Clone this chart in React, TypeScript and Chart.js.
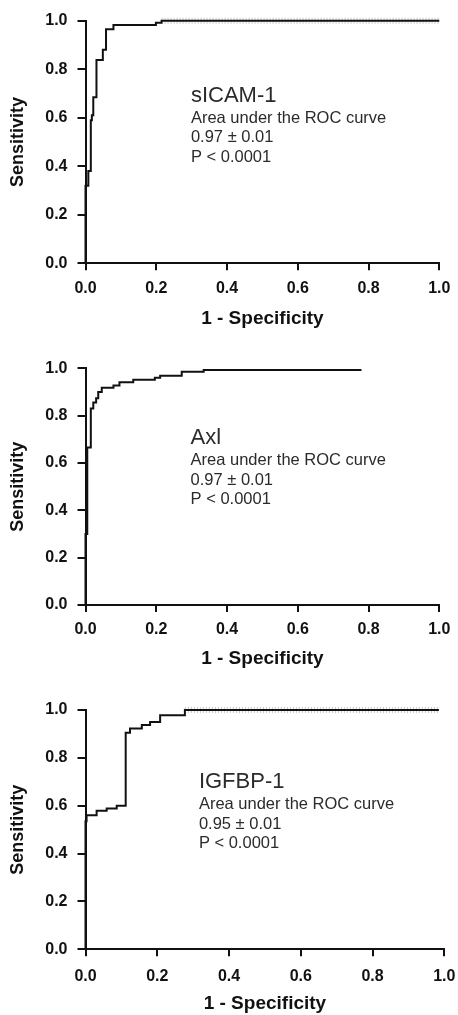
import React, { useEffect, useRef } from "react";
import { Chart, registerables } from "chart.js";

Chart.register(...registerables);

const FONT = "'Liberation Sans', Arial, Helvetica, sans-serif";

// ---- text / tick labels ----
const tickLabels = ["0.0", "0.2", "0.4", "0.6", "0.8", "1.0"];
const xAxisTitle = "1 - Specificity";
const yAxisTitle = "Sensitivity";
const markerNames = ["sICAM-1", "Axl", "IGFBP-1"];
const aucLabel = "Area under the ROC curve";
const aucValues = ["0.97 \u00b1 0.01", "0.97 \u00b1 0.01", "0.95 \u00b1 0.01"];
const pValues = ["P < 0.0001", "P < 0.0001", "P < 0.0001"];

// ---- ROC data (1 - specificity, sensitivity) ----
const sicamFpr = [0, 0, 0.008, 0.015, 0.018, 0.022, 0.031, 0.049, 0.058, 0.079, 0.199, 0.215, 1.0];
const sicamTpr = [0, 0.32, 0.38, 0.59, 0.61, 0.684, 0.838, 0.88, 0.965, 0.982, 0.992, 1.0, 1.0];

const axlFpr = [0, 0, 0.005, 0.015, 0.022, 0.03, 0.036, 0.046, 0.079, 0.096, 0.135, 0.196, 0.211, 0.272, 0.334, 0.78];
const axlTpr = [0, 0.3, 0.665, 0.83, 0.855, 0.873, 0.9, 0.918, 0.927, 0.941, 0.952, 0.96, 0.969, 0.985, 0.993, 0.993];

const igfbpFpr = [0, 0, 0.003, 0.031, 0.059, 0.087, 0.112, 0.124, 0.157, 0.18, 0.208, 0.277, 0.985];
const igfbpTpr = [0, 0.535, 0.56, 0.579, 0.588, 0.6, 0.905, 0.923, 0.937, 0.95, 0.978, 1.0, 1.0];

const seriesFpr = [sicamFpr, axlFpr, igfbpFpr];
const seriesTpr = [sicamTpr, axlTpr, igfbpTpr];

// ---- panel layout (styles only) ----
const panels = [
  { top: 0, height: 340, padTop: 20.7, padRight: 18.7, yAxisW: 85.5, xAxisH: 76.7, tickPad: 8.3, titlePadBottom: 10.2, annX: 0.298, annY: 0.665, hatch: true },
  { top: 340, height: 340, padTop: 28.3, padRight: 18.7, yAxisW: 85.5, xAxisH: 75, tickPad: 8.4, titlePadBottom: 9.4, annX: 0.297, annY: 0.68, hatch: false },
  { top: 680, height: 335, padTop: 30, padRight: 13.7, yAxisW: 85.5, xAxisH: 65.7, tickPad: 10.4, titlePadBottom: 0, annX: 0.316, annY: 0.673, hatch: true },
];

function RocPanel({ idx }: { idx: number }) {
  const ref = useRef<HTMLCanvasElement | null>(null);
  const cfg = panels[idx];

  useEffect(() => {
    if (!ref.current) return;
    const fpr = seriesFpr[idx];
    const tpr = seriesTpr[idx];
    const data = fpr.map((x, i) => ({ x, y: tpr[i] }));
    const n = fpr.length;
    // final plateau of the curve (drawn with faint point hatching as in the original)
    const plateau = [
      { x: fpr[n - 2], y: tpr[n - 1] },
      { x: fpr[n - 1], y: tpr[n - 1] },
    ];

    const annotation = {
      id: "rocAnnotation" + idx,
      afterDatasetsDraw(chart: any) {
        const { ctx, scales } = chart;
        const px = scales.x.getPixelForValue(cfg.annX);
        const py = scales.y.getPixelForValue(cfg.annY);
        ctx.save();
        ctx.fillStyle = "#2b2b2b";
        ctx.textAlign = "left";
        ctx.textBaseline = "alphabetic";
        ctx.font = `22px ${FONT}`;
        ctx.fillText(markerNames[idx], px, py);
        ctx.font = `16.5px ${FONT}`;
        ctx.fillText(aucLabel, px, py + 21);
        ctx.fillText(aucValues[idx], px, py + 40.5);
        ctx.fillText(pValues[idx], px, py + 60);
        ctx.restore();
      },
    };

    const datasets: any[] = [
      {
        data,
        borderColor: "#111",
        borderWidth: 2,
        stepped: "before",
        pointRadius: 0,
        fill: false,
        clip: false,
        order: 1,
      },
    ];
    if (cfg.hatch) {
      datasets.push({
        data: plateau,
        borderColor: "rgba(0,0,0,0.22)",
        borderWidth: 6,
        borderDash: [1, 2],
        pointRadius: 0,
        fill: false,
        clip: false,
        order: 2,
      });
    }

    const axisColor = "#111";
    const chart = new Chart(ref.current, {
      type: "line",
      data: { datasets },
      options: {
        animation: false,
        responsive: false,
        maintainAspectRatio: false,
        layout: { padding: { top: cfg.padTop, right: cfg.padRight, bottom: 0, left: 0 } },
        plugins: { legend: { display: false }, tooltip: { enabled: false } },
        scales: {
          x: {
            type: "linear",
            min: 0,
            max: 1,
            ticks: {
              stepSize: 0.2,
              autoSkip: false,
              maxRotation: 0,
              padding: cfg.tickPad,
              color: axisColor,
              font: { family: FONT, size: 16, weight: "bold" },
              callback: (_v: any, i: number) => tickLabels[i],
            },
            grid: { display: true, drawOnChartArea: false, drawTicks: true, tickLength: 7, lineWidth: 2, color: axisColor },
            border: { display: true, width: 2, color: axisColor },
            title: {
              display: true,
              text: xAxisTitle,
              color: axisColor,
              font: { family: FONT, size: 19, weight: "bold" },
              padding: { top: 0, bottom: cfg.titlePadBottom },
            },
            afterFit: (s: any) => {
              s.height = cfg.xAxisH;
              s.paddingLeft = 0;
              s.paddingRight = 0;
            },
          },
          y: {
            type: "linear",
            min: 0,
            max: 1,
            ticks: {
              stepSize: 0.2,
              autoSkip: false,
              padding: 10,
              color: axisColor,
              font: { family: FONT, size: 16, weight: "bold" },
              callback: (_v: any, i: number) => tickLabels[i],
            },
            grid: { display: true, drawOnChartArea: false, drawTicks: true, tickLength: 8, lineWidth: 2, color: axisColor },
            border: { display: true, width: 2, color: axisColor },
            title: {
              display: true,
              text: yAxisTitle,
              color: axisColor,
              font: { family: FONT, size: 18, weight: "bold" },
              padding: { top: 7.5, bottom: 0 },
            },
            afterFit: (s: any) => {
              s.width = cfg.yAxisW;
              s.paddingTop = 0;
              s.paddingBottom = 0;
            },
          },
        },
      } as any,
      plugins: [annotation],
    });
    return () => chart.destroy();
  }, [idx]);

  return (
    <canvas
      ref={ref}
      width={458}
      height={cfg.height}
      style={{ position: "absolute", left: 0, top: cfg.top, width: 458, height: cfg.height, display: "block" }}
    />
  );
}

export default function App() {
  return (
    <div style={{ position: "absolute", left: 0, top: 0, width: 458, height: 1015, background: "#fff", overflow: "hidden" }}>
      <RocPanel idx={0} />
      <RocPanel idx={1} />
      <RocPanel idx={2} />
    </div>
  );
}
